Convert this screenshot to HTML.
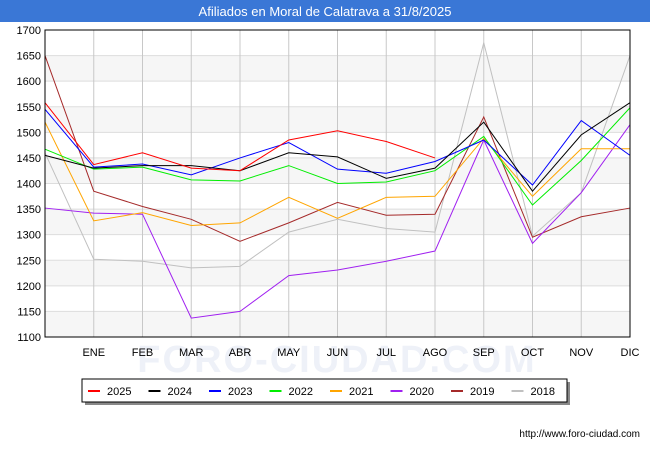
<!DOCTYPE html>
<html><head><meta charset="utf-8"><style>
body{margin:0;background:#fff;font-family:"Liberation Sans",sans-serif}
#wrap{position:relative;width:650px;height:450px;overflow:hidden}
</style></head><body>
<div id="wrap">
<svg id="chart" width="650" height="450" xmlns="http://www.w3.org/2000/svg">
<rect x="0" y="0" width="650" height="450" fill="#fff"/>
<rect x="0" y="0" width="650" height="22" fill="#3a77d6"/>
<text x="325" y="16" text-anchor="middle" font-size="13" fill="#fff">Afiliados en Moral de Calatrava a 31/8/2025</text>
<g id="bands"></g><g id="grid"></g>
<text x="337" y="372" text-anchor="middle" font-size="38" font-weight="bold" fill="#eef1f8" letter-spacing="2">FORO-CIUDAD.COM</text>
<g id="series"></g>
<rect x="45" y="30" width="585" height="307" fill="none" stroke="#000" stroke-width="1"/>
<g id="axes" font-size="11" fill="#000"></g>
<rect x="85" y="382" width="485" height="23" fill="#888"/>
<rect x="82" y="379" width="485" height="23" fill="#fff" stroke="#000"/>
<g id="legend" font-size="11"></g>
<text x="640" y="437" text-anchor="end" font-size="10" fill="#000">http://www.foro-ciudad.com</text>
</svg>
</div>
<script>
const categories=["","ENE","FEB","MAR","ABR","MAY","JUN","JUL","AGO","SEP","OCT","NOV","DIC"];
const yTicks=[1100,1150,1200,1250,1300,1350,1400,1450,1500,1550,1600,1650,1700];
const seriesNames=["2025","2024","2023","2022","2021","2020","2019","2018"];
const seriesColors=["#ff0000","#000000","#0000ff","#00ee00","#ffa500","#a020f0","#a52a2a","#c0c0c0"];
const s2025=[1558,1437,1460,1430,1425,1485,1503,1482,1450];
const s2024=[1455,1430,1435,1435,1425,1460,1452,1410,1430,1520,1385,1495,1558];
const s2023=[1545,1432,1438,1417,1450,1480,1428,1420,1443,1485,1397,1523,1455];
const s2022=[1467,1428,1432,1407,1405,1435,1400,1403,1425,1492,1358,1445,1548];
const s2021=[1520,1327,1343,1318,1323,1373,1332,1373,1375,1488,1375,1468,1468];
const s2020=[1352,1342,1340,1137,1150,1220,1231,1248,1268,1485,1283,1382,1515];
const s2019=[1650,1385,1355,1330,1287,1323,1363,1338,1340,1530,1295,1335,1352];
const s2018=[1460,1252,1248,1235,1238,1305,1330,1312,1305,1675,1297,1382,1650];
const seriesData=[s2025,s2024,s2023,s2022,s2021,s2020,s2019,s2018];
const NS="http://www.w3.org/2000/svg";
const X0=45,X1=630,Y0=30,Y1=337,VMIN=1100,VMAX=1700;
const xs=i=>X0+i*(X1-X0)/(categories.length-1);
const ys=v=>Y0+(VMAX-v)*(Y1-Y0)/(VMAX-VMIN);
function mk(tag,attrs,parent){const e=document.createElementNS(NS,tag);for(const k in attrs)e.setAttribute(k,attrs[k]);parent.appendChild(e);return e;}
const bands=document.getElementById('bands'),grid=document.getElementById('grid'),axes=document.getElementById('axes'),ser=document.getElementById('series'),leg=document.getElementById('legend');
for(let v=VMIN;v<VMAX;v+=100){
  const r=mk('rect',{x:X0,y:ys(v+50),width:X1-X0,height:ys(v)-ys(v+50),fill:'#f6f6f6'},bands);
  
  
}
yTicks.forEach(v=>{
  const l=mk('line',{x1:X0,x2:X1,y1:ys(v),y2:ys(v),stroke:'#ddd'},grid);
  
  
  const t=mk('text',{x:X0-4,y:ys(v)+4,'text-anchor':'end'},axes);
  t.textContent=v;
  
  
});
categories.forEach((c,i)=>{
  if(i===0)return;
  const l=mk('line',{x1:xs(i),x2:xs(i),y1:Y0,y2:Y1,stroke:'#c8c8c8'},grid);
  
  
  const t=mk('text',{x:xs(i),y:356,'text-anchor':'middle'},axes);
  t.textContent=c;
  
  
});
for(let k=seriesData.length-1;k>=0;k--){
  const pts=seriesData[k].map((v,i)=>xs(i)+','+ys(v)).join(' ');
  const p=mk('polyline',{points:pts,fill:'none',stroke:seriesColors[k],'stroke-width':1},ser);
  
  
}
seriesNames.forEach((n,k)=>{
  const x=88+k*60.5;
  const l=mk('line',{x1:x,x2:x+12,y1:391,y2:391,stroke:seriesColors[k],'stroke-width':2},leg);
  
  
  const t=mk('text',{x:x+19,y:395},leg);
  t.textContent=n;
  
  
});
</script>
</body></html>
